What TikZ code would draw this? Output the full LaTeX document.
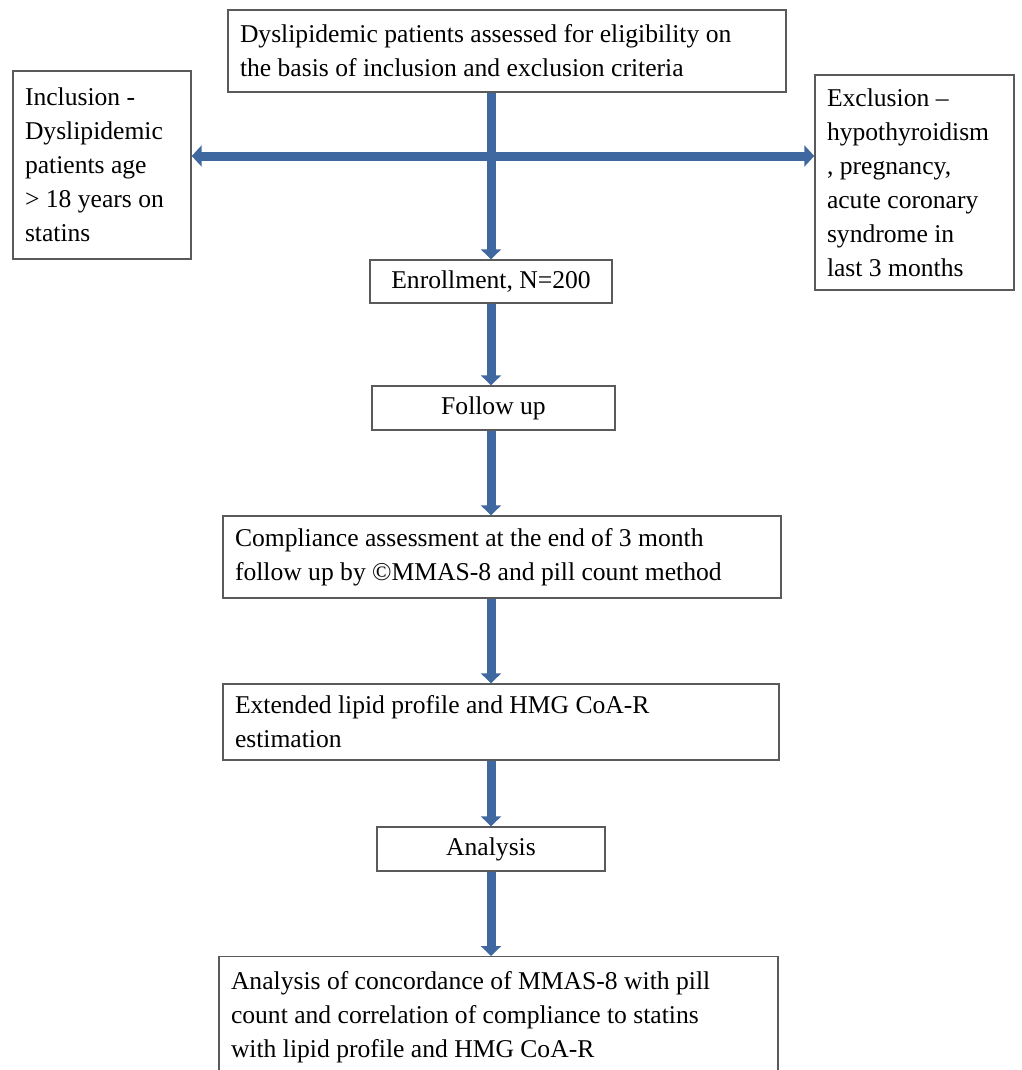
\documentclass[tikz,border=0pt]{standalone}
\usepackage{fontspec}
\setmainfont{Liberation Serif}
\usetikzlibrary{arrows.meta,calc}
\definecolor{flowblue}{RGB}{64,104,160}
\definecolor{boxgray}{RGB}{90,90,90}

\begin{document}
\begin{tikzpicture}[
x=1pt,y=-1pt,
box/.style={draw=boxgray,line width=1.4pt,fill=white,font=\fontsize{25.6pt}{34pt}\selectfont,inner ysep=2pt},
txtbox/.style={box,align=flush left,inner xsep=12pt},
flow/.style={flowblue,line width=9pt,-{Triangle[width=20pt,length=10pt]}},
dflow/.style={flowblue,line width=9pt,{Triangle[width=21pt,length=10pt]}-{Triangle[width=21pt,length=10pt]}}
]
\useasboundingbox (0,0) rectangle (1021,1070);

\coordinate (spine) at (491,156);

\node[txtbox,minimum width=558pt,minimum height=82pt,text width=534pt] (top) at (507,51)
  {Dyslipidemic patients assessed for eligibility on\\the basis of inclusion and exclusion criteria};
\node[txtbox,minimum width=178pt,minimum height=188pt,text width=154pt] (incl) at (102,165)
  {Inclusion -\\Dyslipidemic\\patients age\\> 18 years on\\statins};
\node[txtbox,minimum width=199pt,minimum height=215pt,text width=175pt] (excl) at (914.5,182.5)
  {Exclusion --\\hypothyroidism\\, pregnancy,\\acute coronary\\syndrome in\\last 3 months};
\node[box,minimum width=242pt,minimum height=43pt] (enrol) at (491,281.5) {Enrollment, N=200};
\node[box,minimum width=243pt,minimum height=44pt] (fol) at (493.5,408) {Follow up};
\node[txtbox,minimum width=558pt,minimum height=82pt,text width=534pt] (comp) at (502,557)
  {Compliance assessment at the end of 3 month\\follow up by \textcopyright MMAS-8 and pill count method};
\node[txtbox,minimum width=556pt,minimum height=76pt,text width=532pt] (ext) at (501,722)
  {Extended lipid profile and HMG CoA-R\\estimation};
\node[box,minimum width=228pt,minimum height=44pt] (anal) at (491,849) {Analysis};
\node[txtbox,anchor=north,minimum width=559pt,minimum height=120pt,text width=535pt] (res) at (498.5,956)
  {Analysis of concordance of MMAS-8 with pill\\count and correlation of compliance to statins\\with lipid profile and HMG CoA-R};

\draw[flow] (top.south -| spine) -- (enrol.north -| spine);
\draw[dflow] (incl.east |- spine) -- (excl.west |- spine);
\draw[flow] (enrol.south -| spine) -- (fol.north -| spine);
\draw[flow] (fol.south -| spine) -- (comp.north -| spine);
\draw[flow] (comp.south -| spine) -- (ext.north -| spine);
\draw[flow] (ext.south -| spine) -- (anal.north -| spine);
\draw[flow] (anal.south -| spine) -- (res.north -| spine);
\end{tikzpicture}
\end{document}
